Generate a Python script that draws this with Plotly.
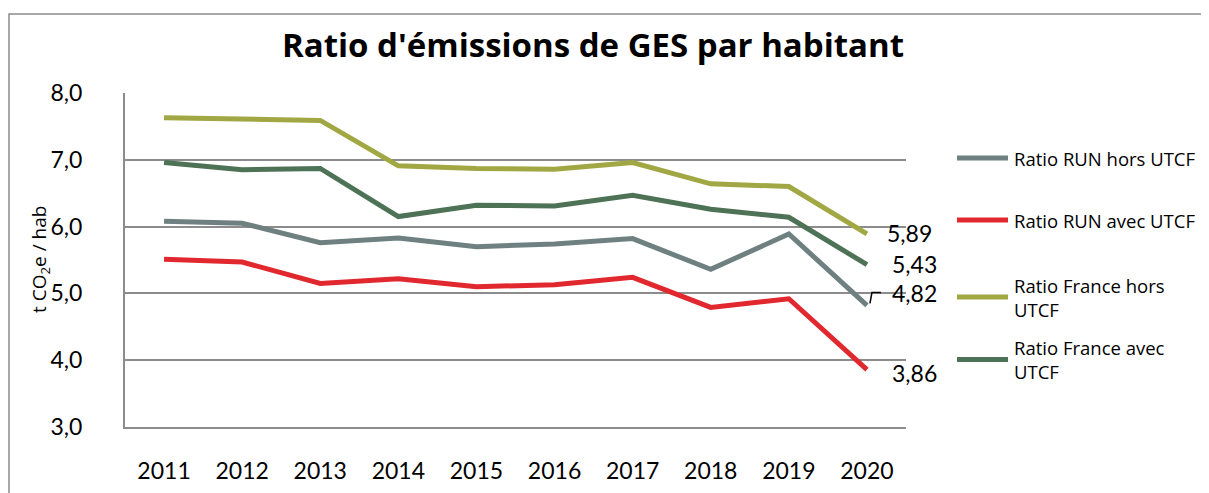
import plotly.graph_objects as go

years = [2011, 2012, 2013, 2014, 2015, 2016, 2017, 2018, 2019, 2020]
series_names = ["Ratio RUN hors UTCF", "Ratio RUN avec UTCF",
                "Ratio France hors UTCF", "Ratio France avec UTCF"]
legend_labels = ["Ratio RUN hors UTCF", "Ratio RUN avec UTCF",
                 "Ratio France hors<br>UTCF", "Ratio France avec<br>UTCF"]
run_hors = [6.08, 6.05, 5.76, 5.83, 5.70, 5.74, 5.82, 5.36, 5.89, 4.82]
run_avec = [5.51, 5.47, 5.15, 5.22, 5.10, 5.13, 5.24, 4.79, 4.92, 3.86]
france_hors = [7.63, 7.61, 7.59, 6.91, 6.87, 6.86, 6.96, 6.64, 6.60, 5.89]
france_avec = [6.96, 6.85, 6.87, 6.15, 6.32, 6.31, 6.47, 6.26, 6.14, 5.43]
y_ticks = [3, 4, 5, 6, 7, 8]
y_tick_labels = ["3,0", "4,0", "5,0", "6,0", "7,0", "8,0"]
colors = ["#6f8080", "#e0282e", "#a1a843", "#4e7255"]

all_series = [run_hors, run_avec, france_hors, france_avec]

W, H = 1209, 493
O = 8  # page body offset
# plot area in screen pixels: x 125..906, y 93..427
ML = 125 - O
MT = 93 - O
MR = W - (906 - O)
MB = H - (427 - O)
PW, PH = W - ML - MR, H - MT - MB
FONT = "Lato"
FONT2 = "Open Sans"


def px(xp):
    return (xp - O - ML) / PW


def py(yp):
    return (H - MB - (yp - O)) / PH


fig = go.Figure()
for name, vals, col in zip(series_names, all_series, colors):
    fig.add_trace(go.Scatter(x=years, y=vals, name=name, mode="lines",
                             line=dict(color=col, width=5),
                             showlegend=False, hoverinfo="x+y+name"))

# data labels for last year
label_shifts = [(23, 12), (23, -3), (18, 1), (23, 1)]
for vals, (dx, dy) in zip(all_series, label_shifts):
    fig.add_annotation(x=years[-1], y=vals[-1], xref="x", yref="y",
                       text=f"{vals[-1]:.2f}".replace(".", ","),
                       showarrow=False, xanchor="left", yanchor="middle",
                       xshift=dx, yshift=dy,
                       font=dict(family=FONT, size=23, color="#000000"))

# leader line for RUN hors label
fig.add_shape(type="path", xref="x", yref="y", xsizemode="pixel", ysizemode="pixel",
              xanchor=years[-1], yanchor=run_hors[-1],
              path="M 3,2 L 5,13 L 14,13", line=dict(color="#000000", width=1.5))

# manual legend
legend_y = [158, 220, 297, 359.5]
for lab, col, ly in zip(legend_labels, colors, legend_y):
    fig.add_shape(type="line", xref="paper", yref="paper",
                  x0=px(957), x1=px(1008), y0=py(ly), y1=py(ly),
                  line=dict(color=col, width=5))
    fig.add_annotation(x=px(1012), y=py(ly), xref="paper", yref="paper",
                       text=lab, showarrow=False, xanchor="left", yanchor="middle",
                       align="left",
                       font=dict(family=FONT2, size=18.5, color="#000000"))

# outer border (top and left edges visible)
fig.add_shape(type="rect", xref="paper", yref="paper",
              x0=px(9), x1=px(1400), y0=py(14), y1=py(600),
              line=dict(color="#8c8c8c", width=1.5), layer="below")

# y axis title
fig.add_annotation(x=px(40), y=py(260), xref="paper", yref="paper",
                   text="t CO<sub>2</sub>e / hab", textangle=-90, showarrow=False,
                   xanchor="center", yanchor="middle",
                   font=dict(family=FONT2, size=19, color="#000000"))

fig.update_layout(
    width=W, height=H,
    margin=dict(l=ML, r=MR, t=MT, b=MB),
    paper_bgcolor="white", plot_bgcolor="white",
    title=dict(text="<b>Ratio d'émissions de GES par habitant</b>",
               xref="container", x=(593 - O) / W, xanchor="center",
               yref="container", y=1 - (45 - O) / H, yanchor="middle",
               font=dict(family=FONT2, size=33, color="#000000")),
    font=dict(family=FONT, color="#000000"),
    showlegend=False,
)
fig.update_xaxes(range=[2010.5, 2020.5], tickmode="array", tickvals=years,
                 ticktext=[str(y) for y in years], showgrid=False,
                 showline=True, linecolor="#8c8c8c", linewidth=2,
                 ticks="", ticklabelstandoff=22,
                 tickfont=dict(family=FONT, size=23, color="#000000"), zeroline=False)
fig.update_yaxes(range=[3, 8], tickmode="array", tickvals=y_ticks, ticktext=y_tick_labels,
                 showgrid=True, gridcolor="#8c8c8c", gridwidth=2,
                 showline=True, linecolor="#8c8c8c", linewidth=2,
                 ticks="", ticklabelstandoff=36,
                 tickfont=dict(family=FONT, size=23, color="#000000"), zeroline=False)

fig.write_html("out.html")
